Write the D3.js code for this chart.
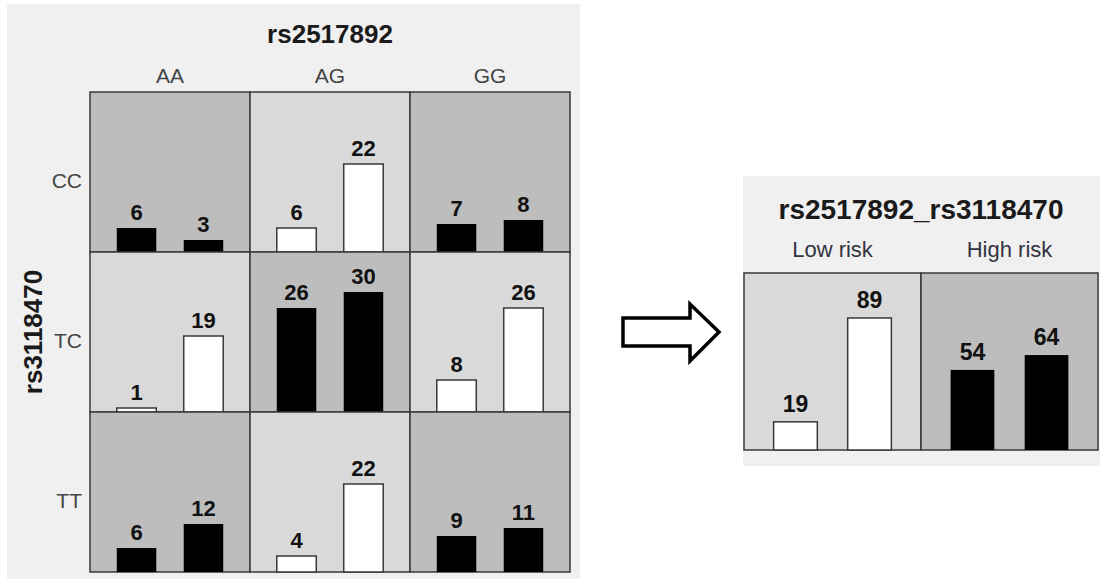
<!DOCTYPE html>
<html>
<head>
<meta charset="utf-8">
<script src="https://cdn.jsdelivr.net/npm/d3@7"></script>
<style>
  html, body { margin: 0; padding: 0; background: #ffffff; }
  svg { display: block; font-family: "Liberation Sans", Arial, sans-serif; }
</style>
</head>
<body>
<svg id="chart" width="1100" height="581"></svg>
<script>
// ---- data ----
const colGenotypes = ["AA", "AG", "GG"];          // rs2517892
const rowGenotypes = ["CC", "TC", "TT"];          // rs3118470
const ccValues = [[6, 3], [6, 22], [7, 8]];
const tcValues = [[1, 19], [26, 30], [8, 26]];
const ttValues = [[6, 12], [4, 22], [9, 11]];
const ccRisk = ["High", "Low", "High"];
const tcRisk = ["Low", "High", "Low"];
const ttRisk = ["High", "Low", "High"];
const combinedGroups = ["Low risk", "High risk"];
const combinedRisk = ["Low", "High"];
const combinedValues = [[19, 89], [54, 64]];
const leftTitle = "rs2517892";
const leftYTitle = "rs3118470";
const rightTitle = "rs2517892_rs3118470";

const rowValues = [ccValues, tcValues, ttValues];
const rowRisk = [ccRisk, tcRisk, ttRisk];

const cellFill = { High: "#bdbdbd", Low: "#d9d9d9" };
const barFill = { High: "#000000", Low: "#ffffff" };
const lineColor = "#383838";

const svg = d3.select("#chart");

// ---- left panel ----
svg.append("rect").attr("x", 7).attr("y", 4).attr("width", 573).attr("height", 575).attr("fill", "#f0f0f0");

const gx = d3.scaleBand().domain(colGenotypes).range([90, 570]).padding(0);
const gy = d3.scaleBand().domain(rowGenotypes).range([92, 572]).padding(0);
const barX = d3.scaleBand().domain([0, 1]).range([0, gx.bandwidth()]).paddingInner(0.41).paddingOuter(0.4).align(0.5);
const leftY = d3.scaleLinear().domain([0, 40]).range([gy.bandwidth(), 0]);

svg.append("text").attr("x", (gx.range()[0] + gx.range()[1]) / 2).attr("y", 43)
  .attr("text-anchor", "middle").attr("font-size", 26).attr("font-weight", "bold").attr("fill", "#1a1a1a")
  .text(leftTitle);

svg.selectAll(".collab").data(colGenotypes).enter().append("text")
  .attr("x", d => gx(d) + gx.bandwidth() / 2).attr("y", 83)
  .attr("text-anchor", "middle").attr("font-size", 21).attr("fill", "#444")
  .text(d => d);

svg.selectAll(".rowlab").data(rowGenotypes).enter().append("text")
  .attr("x", 82).attr("y", d => gy(d) + gy.bandwidth() / 2 + 16)
  .attr("text-anchor", "end").attr("font-size", 21).attr("fill", "#444")
  .text(d => d);

svg.append("text").attr("transform", "translate(42," + ((gy.range()[0] + gy.range()[1]) / 2) + ") rotate(-90)")
  .attr("text-anchor", "middle").attr("font-size", 26).attr("font-weight", "bold").attr("fill", "#1a1a1a")
  .text(leftYTitle);

rowGenotypes.forEach((r, ri) => {
  colGenotypes.forEach((c, ci) => {
    const risk = rowRisk[ri][ci];
    const vals = rowValues[ri][ci];
    const g = svg.append("g").attr("transform", `translate(${gx(c)},${gy(r)})`);
    g.append("rect").attr("width", gx.bandwidth()).attr("height", gy.bandwidth())
      .attr("fill", cellFill[risk]).attr("stroke", lineColor).attr("stroke-width", 1.5);
    g.selectAll(".bar").data(vals).enter().append("rect")
      .attr("x", (d, i) => barX(i)).attr("width", barX.bandwidth())
      .attr("y", d => leftY(d)).attr("height", d => leftY(0) - leftY(d))
      .attr("fill", barFill[risk]).attr("stroke", risk === "Low" ? lineColor : "none").attr("stroke-width", 1.5);
    g.selectAll(".val").data(vals).enter().append("text")
      .attr("x", (d, i) => barX(i) + barX.bandwidth() / 2).attr("y", d => leftY(d) - 8)
      .attr("text-anchor", "middle").attr("font-size", 22).attr("font-weight", "bold").attr("fill", "#111")
      .text(d => d);
  });
});

// ---- arrow ----
const arrow = d3.path();
arrow.moveTo(623, 318); arrow.lineTo(690, 318); arrow.lineTo(690, 304); arrow.lineTo(719, 332);
arrow.lineTo(690, 361); arrow.lineTo(690, 346); arrow.lineTo(623, 346); arrow.closePath();
svg.append("path").attr("d", arrow.toString()).attr("fill", "#fff").attr("stroke", "#000")
  .attr("stroke-width", 3.5).attr("stroke-linejoin", "miter");

// ---- right panel ----
svg.append("rect").attr("x", 743).attr("y", 176).attr("width", 357).attr("height", 290).attr("fill", "#f0f0f0");

const rx = d3.scaleBand().domain(combinedGroups).range([744, 1098]).padding(0);
const rTop = 273, rBottom = 450;
const rBarX = d3.scaleBand().domain([0, 1]).range([0, rx.bandwidth()]).paddingInner(0.41).paddingOuter(0.4).align(0.5);
const rightY = d3.scaleLinear().domain([0, 120]).range([rBottom, rBottom - 178]);

svg.append("text").attr("x", (rx.range()[0] + rx.range()[1]) / 2).attr("y", 219)
  .attr("text-anchor", "middle").attr("font-size", 28).attr("font-weight", "bold").attr("fill", "#1a1a1a")
  .text(rightTitle);

svg.selectAll(".rlab").data(combinedGroups).enter().append("text")
  .attr("x", d => rx(d) + rx.bandwidth() / 2).attr("y", 257)
  .attr("text-anchor", "middle").attr("font-size", 22).attr("fill", "#33333f")
  .text(d => d);

combinedGroups.forEach((grp, gi) => {
  const risk = combinedRisk[gi];
  const vals = combinedValues[gi];
  const g = svg.append("g").attr("transform", `translate(${rx(grp)},0)`);
  g.append("rect").attr("y", rTop).attr("width", rx.bandwidth()).attr("height", rBottom - rTop)
    .attr("fill", cellFill[risk]).attr("stroke", lineColor).attr("stroke-width", 1.5);
  g.selectAll(".bar").data(vals).enter().append("rect")
    .attr("x", (d, i) => rBarX(i)).attr("width", rBarX.bandwidth())
    .attr("y", d => rightY(d)).attr("height", d => rightY(0) - rightY(d))
    .attr("fill", barFill[risk]).attr("stroke", risk === "Low" ? lineColor : "none").attr("stroke-width", 1.5);
  g.selectAll(".val").data(vals).enter().append("text")
    .attr("x", (d, i) => rBarX(i) + rBarX.bandwidth() / 2).attr("y", d => rightY(d) - 10)
    .attr("text-anchor", "middle").attr("font-size", 23).attr("font-weight", "bold").attr("fill", "#111")
    .text(d => d);
});
</script>
</body>
</html>
